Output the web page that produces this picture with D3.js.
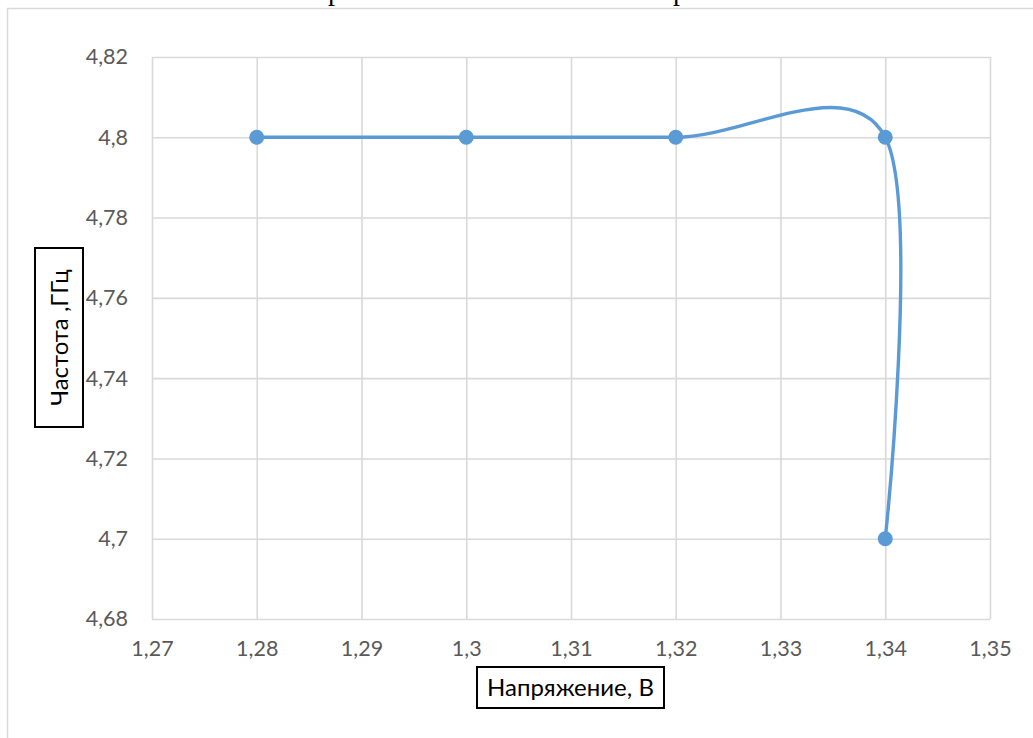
<!DOCTYPE html>
<html>
<head>
<meta charset="utf-8">
<script src="https://cdn.jsdelivr.net/npm/d3@7"></script>
<style>
  html, body { margin: 0; padding: 0; background: #fff; overflow: hidden; }
  svg { display: block; }
</style>
</head>
<body>
<svg id="chart" width="1033" height="738"></svg>
<script>
// ---- data ----
const voltage = [1.28, 1.30, 1.32, 1.34, 1.34];
const frequency = [4.80, 4.80, 4.80, 4.80, 4.70];
const xTicks = [1.27, 1.28, 1.29, 1.30, 1.31, 1.32, 1.33, 1.34, 1.35];
const yTicks = [4.68, 4.70, 4.72, 4.74, 4.76, 4.78, 4.80, 4.82];
const xTitle = "Напряжение, В";
const yTitle = "Частота ,ГГц";
const titleFragments = ["р", "р"];

const svg = d3.select("#chart");
const W = 1033, H = 738;

const x = d3.scaleLinear().domain([1.27, 1.35]).range([152, 990]);
const y = d3.scaleLinear().domain([4.68, 4.82]).range([619, 57]);
const fmt = d => d3.format("~g")(+d.toFixed(4)).replace(".", ",");

// Title fragments cut off above the frame (as in the reference)
svg.selectAll("text.titlefrag").data(titleFragments).join("text")
  .attr("class", "titlefrag")
  .attr("x", (d, i) => [335, 680][i])
  .attr("y", 0)
  .attr("text-anchor", "middle")
  .attr("font-family", "Liberation Serif, serif")
  .attr("font-size", 28)
  .attr("fill", "#000")
  .text(d => d);

// chart frame
svg.append("rect")
  .attr("x", 7.5).attr("y", 8.5)
  .attr("width", W + 20).attr("height", H + 20)
  .attr("fill", "none").attr("stroke", "#d9d9d9").attr("stroke-width", 1.5);

// gridlines via axes
const gridColor = "#d9d9d9";
const gx = svg.append("g").attr("transform", `translate(0,${y(4.68)})`)
  .call(d3.axisBottom(x).tickValues(xTicks).tickSize(-(y(4.68) - y(4.82))).tickFormat(""));
gx.select(".domain").remove();
gx.selectAll("line").attr("stroke", gridColor).attr("stroke-width", 1.6);

const gy = svg.append("g").attr("transform", `translate(${x(1.27)},0)`)
  .call(d3.axisLeft(y).tickValues(yTicks).tickSize(-(x(1.35) - x(1.27))).tickFormat(""));
gy.select(".domain").remove();
gy.selectAll("line").attr("stroke", gridColor).attr("stroke-width", 1.6);

// tick labels
const xl = svg.append("g").attr("transform", `translate(0,${y(4.68)})`)
  .call(d3.axisBottom(x).tickValues(xTicks).tickSize(0).tickPadding(22).tickFormat(fmt));
xl.select(".domain").remove();
xl.selectAll("text").attr("font-family", "Lato, sans-serif").attr("font-size", 21.5).attr("fill", "#595959");

const yl = svg.append("g").attr("transform", `translate(${x(1.27)},0)`)
  .call(d3.axisLeft(y).tickValues(yTicks).tickSize(0).tickPadding(24).tickFormat(fmt));
yl.select(".domain").remove();
yl.selectAll("text").attr("font-family", "Lato, sans-serif").attr("font-size", 21.5).attr("fill", "#595959");

// line
const pts = voltage.map((v, i) => [v, frequency[i]]);
const line = d3.line().x(d => x(d[0])).y(d => y(d[1])).curve(d3.curveCardinal.tension(0));
svg.append("path").datum(pts)
  .attr("d", line).attr("fill", "none")
  .attr("stroke", "#5b9bd5").attr("stroke-width", 3.4).attr("stroke-linecap", "round");

svg.selectAll("circle.pt").data(pts).join("circle")
  .attr("class", "pt")
  .attr("cx", d => x(d[0])).attr("cy", d => y(d[1])).attr("r", 7.5)
  .attr("fill", "#5b9bd5");

// axis titles with boxes
function boxedLabel(txt, cx, cy, rotate, bw, bh) {
  const g = svg.append("g").attr("transform", `translate(${cx},${cy}) rotate(${rotate})`);
  g.append("rect").attr("x", -bw / 2).attr("y", -bh / 2).attr("width", bw).attr("height", bh)
    .attr("fill", "#fff").attr("stroke", "#000").attr("stroke-width", 2);
  g.append("text").attr("x", 0).attr("y", 0).attr("dy", "0.36em")
    .attr("text-anchor", "middle")
    .attr("font-family", "Lato, sans-serif").attr("font-size", 24)
    .attr("fill", "#000").text(txt);
  return g;
}
boxedLabel(xTitle, 570.5, 687.5, 0, 187, 41);
boxedLabel(yTitle, 59, 337.5, -90, 179, 48);
</script>
</body>
</html>
